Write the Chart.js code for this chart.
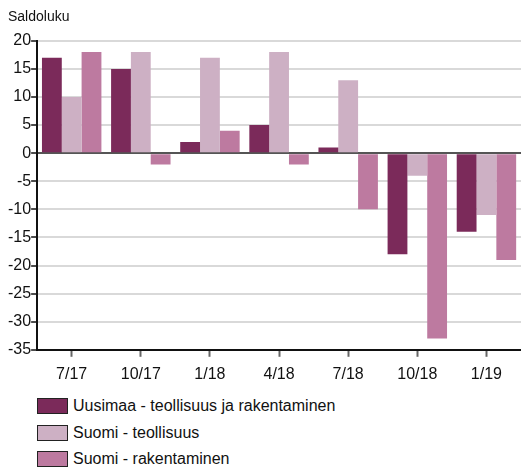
<!DOCTYPE html>
<html lang="fi">
<head>
  <meta charset="UTF-8">
  <title>Saldoluku</title>
  <script src="https://cdn.jsdelivr.net/npm/chart.js"></script>
  <style>
    body {
      margin: 0;
      padding: 0;
      font-family: "Liberation Sans", Arial, sans-serif;
      background: #fff;
    }

    .chart-wrapper {
      position: relative;
      width: 521px;
      height: 392px;
    }

    #legend {
      margin: 1px 0 0 37px;
      padding: 0;
      list-style: none;
    }

    #legend li {
      display: flex;
      align-items: center;
      height: 26.5px;
      font-size: 16px;
      color: #111;
    }

    #legend span.box {
      display: inline-block;
      width: 29px;
      height: 14px;
      border: 1px solid #222;
      margin-right: 5px;
    }
  </style>
</head>
<body>
  <div class="chart-wrapper"><canvas id="saldoChart"></canvas></div>
  <ul id="legend"></ul>

  <script>
    // Data
    const categories = ["7/17", "10/17", "1/18", "4/18", "7/18", "10/18", "1/19"];
    const seriesNames = ["Uusimaa - teollisuus ja rakentaminen", "Suomi - teollisuus", "Suomi - rakentaminen"];
    const uusimaa = [17, 15, 2, 5, 1, -18, -14];
    const suomiTeollisuus = [10, 18, 17, 18, 13, -4, -11];
    const suomiRakentaminen = [18, -2, 4, -2, -10, -33, -19];
    const yTicks = [20, 15, 10, 5, 0, -5, -10, -15, -20, -25, -30, -35];

    const colors = ["#7b2a5a", "#cdb0c4", "#bd7aa0"];
    const seriesData = [uusimaa, suomiTeollisuus, suomiRakentaminen];

    const ctx = document.getElementById("saldoChart").getContext("2d");
    new Chart(ctx, {
      type: "bar",
      data: {
        labels: categories,
        datasets: seriesData.map((d, i) => ({
          label: seriesNames[i],
          data: d,
          backgroundColor: colors[i],
          borderWidth: 0,
          barPercentage: 1.0,
          categoryPercentage: 0.86
        }))
      },
      options: {
        responsive: true,
        maintainAspectRatio: false,
        animation: false,
        layout: { padding: { left: 8, right: 0, top: 0, bottom: 0 } },
        scales: {
          x: {
            grid: {
              offset: false,
              drawOnChartArea: false,
              tickLength: 7,
              tickColor: "#666",
              tickWidth: 2
            },
            border: { color: "#111", width: 2 },
            ticks: {
              color: "#111",
              font: { family: "Liberation Sans", size: 16 },
              padding: 8
            }
          },
          y: {
            min: -35,
            max: 20,
            afterBuildTicks: axis => {
              axis.ticks = yTicks.map(v => ({ value: v }));
            },
            grid: {
              color: c => (c.tick && c.tick.value === 0) ? "#555" : "#d9d9d9",
              lineWidth: 2,
              tickLength: 6,
              tickColor: "#111",
              tickWidth: 1.5
            },
            border: { color: "#111", width: 2 },
            ticks: {
              color: "#111",
              font: { family: "Liberation Sans", size: 16 },
              padding: 0
            }
          }
        },
        plugins: {
          legend: { display: false },
          tooltip: { enabled: false },
          title: {
            display: true,
            text: "Saldoluku",
            align: "start",
            color: "#111",
            font: { family: "Liberation Sans", size: 14, weight: "normal" },
            padding: { top: 9, bottom: 15 }
          }
        }
      }
    });

    // Legend, one entry per row
    const legend = document.getElementById("legend");
    seriesNames.forEach((name, i) => {
      const li = document.createElement("li");
      const box = document.createElement("span");
      box.className = "box";
      box.style.background = colors[i];
      li.appendChild(box);
      li.appendChild(document.createTextNode(name));
      legend.appendChild(li);
    });
  </script>
</body>
</html>
